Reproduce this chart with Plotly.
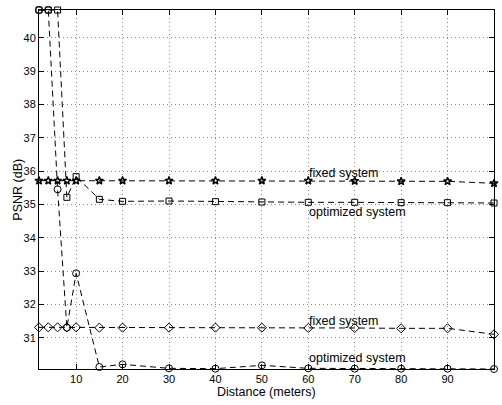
import plotly.graph_objects as go

# Distance (meters) at which PSNR was evaluated
distance = [2, 4, 6, 8, 10, 15, 20, 30, 40, 50, 60, 70, 80, 90, 100]

# Upper pair of curves
fixed_high = [35.71, 35.71, 35.71, 35.71, 35.71, 35.71, 35.71, 35.71, 35.71,
              35.71, 35.71, 35.70, 35.69, 35.69, 35.63]
optimized_high = [40.83, 40.83, 40.83, 35.21, 35.83, 35.15, 35.09, 35.10, 35.08,
                  35.07, 35.06, 35.06, 35.05, 35.05, 35.04]

# Lower pair of curves
fixed_low = [31.31, 31.31, 31.31, 31.31, 31.31, 31.30, 31.30, 31.30, 31.30,
             31.30, 31.29, 31.29, 31.28, 31.28, 31.10]
optimized_low = [40.83, 40.83, 35.45, 31.30, 32.93, 30.12, 30.20, 30.08, 30.07,
                 30.17, 30.08, 30.07, 30.07, 30.07, 30.06]

x_ticks = [10, 20, 30, 40, 50, 60, 70, 80, 90, 100]
y_ticks = [31, 32, 33, 34, 35, 36, 37, 38, 39, 40]

FONT = "Liberation Sans, Arial, sans-serif"
DASH = "6px,4px"

fig = go.Figure()


def add_curve(y, symbol, size, lw=1):
    fig.add_trace(go.Scatter(
        x=distance, y=y, mode="lines+markers",
        line=dict(color="black", width=1, dash=DASH),
        marker=dict(symbol=symbol, size=size, color="black",
                    line=dict(color="black", width=lw)),
        cliponaxis=False, showlegend=False,
    ))


add_curve(optimized_high, "square-open", 6)
add_curve(fixed_high, "star-open", 6, 1.4)
add_curve(fixed_low, "diamond-open", 7)
add_curve(optimized_low, "circle-open", 7)

labels = [
    ("fixed system", 60, 35.95),
    ("optimized system", 60, 34.77),
    ("fixed system", 60, 31.51),
    ("optimized system", 60, 30.39),
]
for text, lx, ly in labels:
    fig.add_annotation(x=lx, y=ly, text=text, showarrow=False,
                       xanchor="left", yanchor="middle", xshift=-1,
                       font=dict(family=FONT, size=12.5, color="black"))

fig.add_annotation(x=0.5, y=-0.063, xref="paper", yref="paper",
                   text="Distance (meters)", showarrow=False,
                   xanchor="center", yanchor="middle",
                   font=dict(family=FONT, size=12.5, color="black"))
fig.add_annotation(x=-0.048, y=0.5, xref="paper", yref="paper",
                   text="PSNR (dB)", showarrow=False, textangle=-90,
                   xanchor="center", yanchor="middle",
                   font=dict(family=FONT, size=12.5, color="black"))

axis_common = dict(
    showline=True, linecolor="black", linewidth=1, mirror="ticks",
    ticks="inside", ticklen=5, tickcolor="black", tickwidth=1,
    showgrid=True, gridcolor="#8a8a8a", gridwidth=1, griddash="1px,3px",
    zeroline=False,
    tickfont=dict(family=FONT, size=11, color="black"),
)

fig.update_xaxes(range=[2, 100], tickvals=x_ticks, **axis_common)
fig.update_yaxes(range=[30.06, 40.83], tickvals=y_ticks, **axis_common)

fig.update_layout(
    width=502, height=405,
    margin=dict(l=39, r=8, t=10, b=36),
    paper_bgcolor="white", plot_bgcolor="white",
    font=dict(family=FONT, size=11, color="black"),
)

fig.write_html("out.html")
